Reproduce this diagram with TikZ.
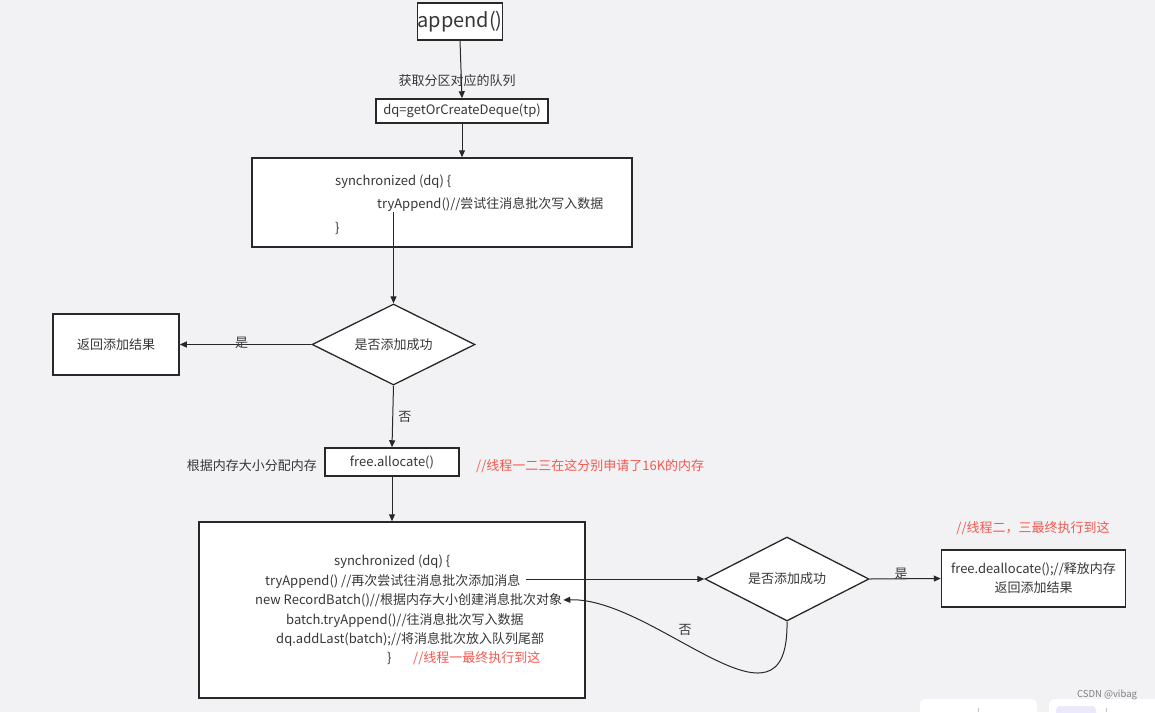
\documentclass[tikz,border=0pt]{standalone}
\usepackage{fontspec}
\setmainfont{Noto Sans CJK SC}
\usetikzlibrary{arrows.meta,shapes.geometric}
\definecolor{bgcol}{RGB}{242,242,245}
\definecolor{txtcol}{RGB}{55,55,55}
\definecolor{redcol}{RGB}{245,88,78}
\definecolor{linecol}{RGB}{40,40,40}
\definecolor{lavcol}{RGB}{236,233,252}
\tikzset{
	flowbox/.style={draw=linecol, line width=1.5pt, fill=white, inner sep=0pt, text=txtcol, align=center, font=\fontsize{13}{19}\selectfont},
	decision/.style={diamond, aspect=2, draw=linecol, line width=1.3pt, fill=white, inner sep=0pt, text=txtcol, font=\fontsize{13}{15}\selectfont},
	codeline/.style={anchor=west, inner sep=1pt, text=txtcol, font=\fontsize{13}{15}\selectfont},
	notered/.style={inner sep=1pt, text=redcol, font=\fontsize{13}{15}\selectfont},
	lbl/.style={inner sep=1pt, text=txtcol, font=\fontsize{13}{15}\selectfont},
	arr/.style={draw=linecol, line width=1pt, -{Triangle[length=7pt,width=6pt]}}
}

\begin{document}
\begin{tikzpicture}[x=1pt, y=-1pt]
		%%%%% START %%%%%
		
		\fill[bgcol] (0, 0) rectangle (1155, 712);
		\useasboundingbox (0, 0) rectangle (1155, 712);
		
		\node[flowbox, minimum width=83, minimum height=37, font=\fontsize{20}{24}\selectfont] (append) at (460, 21.5) {append()};
		\node[flowbox, minimum width=172, minimum height=24] (deque) at (462, 111) {dq=getOrCreateDeque(tp)};
		\node[flowbox, minimum width=380, minimum height=89] (syncA) at (442, 202.5) {};
		\node[codeline] (syncAa) at (334, 182) {synchronized (dq) \{};
		\node[codeline] (syncAb) at (376, 204) {tryAppend()//尝试往消息批次写入数据};
		\node[codeline] (syncAc) at (334, 228) {\}};
		
		\node[decision, minimum width=163, minimum height=81] (okA) at (393.5, 344.5) {是否添加成功};
		\node[flowbox, minimum width=126, minimum height=61] (retA) at (116, 344.5) {返回添加结果};
		
		\node[flowbox, minimum width=134, minimum height=28] (alloc) at (392, 462) {free.allocate()};
		\node[lbl, anchor=east] (allocnote) at (318, 466) {根据内存大小分配内存};
		\node[notered, anchor=west] (allocred) at (475, 466) {//线程一二三在这分别申请了16K的内存};
		
		\node[flowbox, minimum width=386, minimum height=176] (syncB) at (392, 610) {};
		\node[codeline] (syncBa) at (333, 562) {synchronized (dq) \{};
		\node[codeline] (syncBb) at (264, 581) {tryAppend() //再次尝试往消息批次添加消息};
		\node[codeline] (syncBc) at (254, 600) {new RecordBatch()//根据内存大小创建消息批次对象};
		\node[codeline] (syncBd) at (285, 620) {batch.tryAppend()//往消息批次写入数据};
		\node[codeline] (syncBe) at (275, 639) {dq.addLast(batch);//将消息批次放入队列尾部};
		\node[codeline] (syncBf) at (386, 658) {\}};
		\node[notered, anchor=west] (syncBred) at (412, 658) {//线程一最终执行到这};
		
		\node[decision, minimum width=164, minimum height=84] (okB) at (787, 579) {是否添加成功};
		\node[flowbox, minimum width=184, minimum height=57] (dealloc) at (1033.5, 578.5) {free.deallocate();//释放内存\\返回添加结果};
		\node[notered] (deallocred) at (1033, 528) {//线程二，三最终执行到这};
		
		% connectors
		\draw[arr] (append.south) -- (deque.north);
		\node[lbl] (dqnote) at (457, 81) {获取分区对应的队列};
		\draw[arr] (deque.south) -- (deque.south |- syncA.north);
		\draw[arr] (okA.north |- syncAb.south) -- (okA.north);
		\draw[arr] (okA.west) -- node[lbl, above=-6pt, xshift=-4pt] {是} (retA.east);
		\draw[arr] (okA.south) -- node[lbl, right=4pt] {否} (alloc.north);
		\draw[arr] (alloc.south) -- (syncB.north);
		\draw[arr] ([xshift=4pt]okB.west -| syncBb.east) -- (okB.west);
		\draw[arr] (okB.east) -- node[lbl, above=-2pt, xshift=-4pt] {是} (dealloc.west);
		\draw[arr] (okB.south) .. controls (789, 750) and (655, 597) .. (syncBc.east);
		\node[lbl] (nolbl) at (685, 630) {否};
		
		% page chrome
		\fill[white, rounded corners=6] (920, 699) rectangle (1037, 730);
		\fill[white, rounded corners=6] (1049, 699) rectangle (1175, 730);
		\fill[lavcol, rounded corners=4] (1056, 706) rectangle (1096, 730);
		\draw[black!25] (978, 708) -- (978, 712);
		\draw[black!25] (1106, 708) -- (1106, 712);
		\node[text=black!50, font=\fontsize{9.5}{11}\selectfont, inner sep=0pt] (mark) at (1107, 695) {CSDN @vibag};
		
		%%%%% END %%%%%
	\end{tikzpicture}
\end{document}
